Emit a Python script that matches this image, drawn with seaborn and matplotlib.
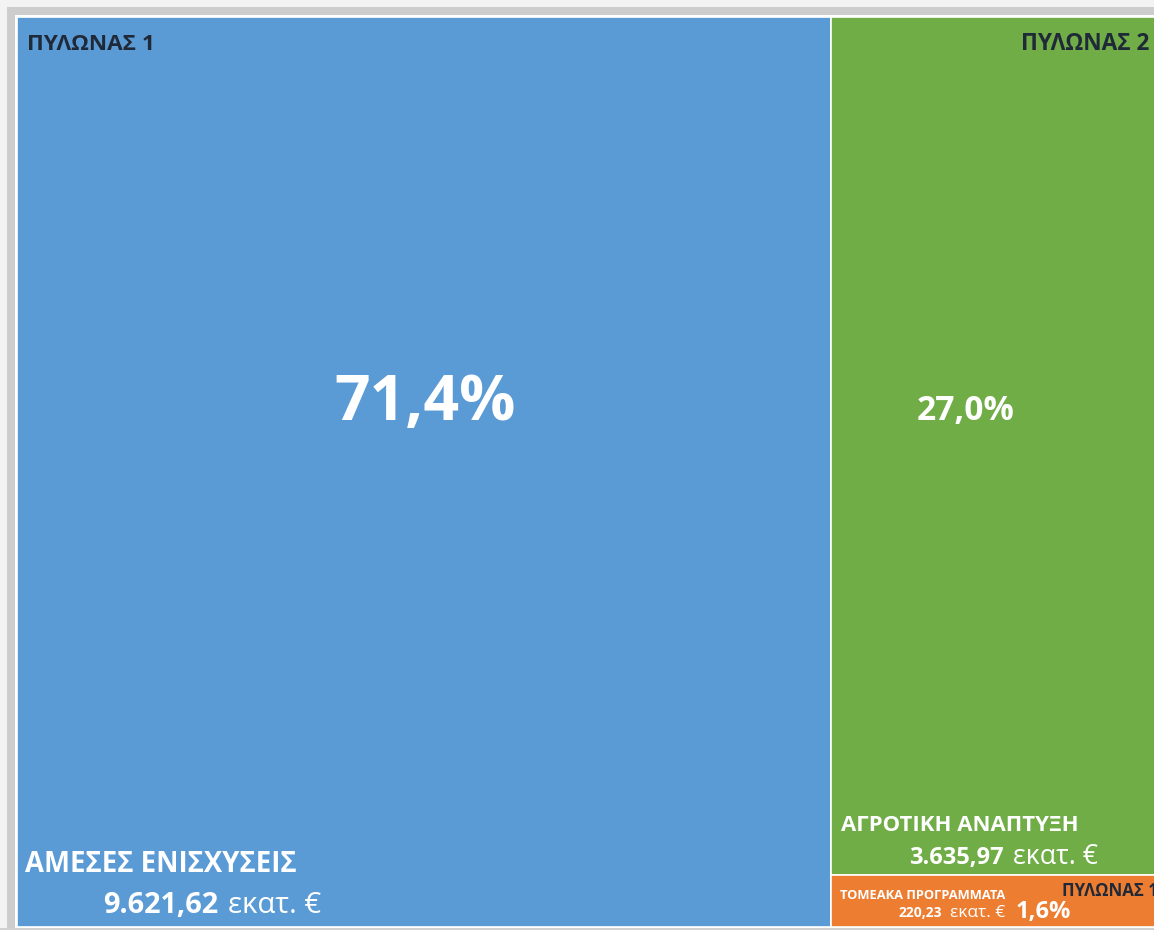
import matplotlib
matplotlib.use("Agg")
import matplotlib.pyplot as plt
from matplotlib.patches import Rectangle
import seaborn as sns

# ---- data ----
pillars = ["ΠΥΛΩΝΑΣ 1", "ΠΥΛΩΝΑΣ 2", "ΠΥΛΩΝΑΣ 1"]
categories = ["ΑΜΕΣΕΣ ΕΝΙΣΧΥΣΕΙΣ", "ΑΓΡΟΤΙΚΗ ΑΝΑΠΤΥΞΗ", "ΤΟΜΕΑΚΑ ΠΡΟΓΡΑΜΜΑΤΑ"]
values = [9621.62, 3635.97, 220.23]
value_labels = ["9.621,62", "3.635,97", "220,23"]
pct_labels = ["71,4%", "27,0%", "1,6%"]
unit = "εκατ. €"
colors = ["#5B9BD5", "#70AD47", "#ED7D31"]

sns.set_theme(style="white")
plt.rcParams["font.family"] = ["Open Sans", "DejaVu Sans"]

W, H = 1154, 930
fig = plt.figure(figsize=(W / 100, H / 100), dpi=100)
fig.patch.set_facecolor("#f3f3f3")

# slide frame
fig.patches.append(Rectangle((7 / W, 0), 1, (H - 7) / H, transform=fig.transFigure,
                             facecolor="#cdcdcd", edgecolor="none", zorder=-3))
fig.patches.append(Rectangle((15 / W, 0), 1, (H - 15) / H, transform=fig.transFigure,
                             facecolor="#ffffff", edgecolor="none", zorder=-2))
fig.patches.append(Rectangle((0, 0), 1, 2 / H, transform=fig.transFigure,
                             facecolor="#d0d0d0", edgecolor="none", zorder=-1))

# axes region of the treemap (pixels): left 17, right 1157, top 17, bottom 927
L, R, T, B = 17, 1157, 17, 927
ax = fig.add_axes([L / W, (H - B) / H, (R - L) / W, (B - T) / H])
ax.set_axis_off()
ax.set_zorder(1)

total = sum(values)
p2 = values[1] + values[2]
g_frac = values[1] / p2

ax.set_xlim(0, total)
ax.set_ylim(1, 0)

# treemap rectangles via bars
ax.bar([0], [1], width=[values[0]], bottom=[0], align="edge",
       color=colors[0], edgecolor="white", linewidth=1.2)
ax.bar([values[0]], [g_frac], width=[p2], bottom=[0], align="edge",
       color=colors[1], edgecolor="white", linewidth=1.2)
ax.bar([values[0]], [1 - g_frac], width=[p2], bottom=[g_frac], align="edge",
       color=colors[2], edgecolor="white", linewidth=1.2)

dark = "#1f2937"

def lab(x, y, dx, dy, s, size, color="white", weight="bold", ha="left", va="baseline"):
    ax.annotate(s, xy=(x, y), xytext=(dx, -dy), textcoords="offset pixels",
                ha=ha, va=va, fontsize=size, color=color, fontweight=weight,
                annotation_clip=False)

x0 = 0
x1 = values[0]
xr = total

# blue
lab(x0, 0, 10, 27, pillars[0], 16.2, color=dark, va="center")
lab(x1 / 2, 0, 1, 403, pct_labels[0], 45, ha="center")
lab(x0, 1, 8, -55, categories[0], 19.8)
lab(x0, 1, 201, -14, value_labels[0], 20.8, ha="right")
lab(x0, 1, 211, -14, unit, 21.2, weight="normal")

# green
lab(xr, 0, -8, 27, pillars[1], 16.3, color=dark, ha="right", va="center")
lab(x1, 0, 86, 403, pct_labels[1], 24.2)
lab(x1, g_frac, 10, -44, categories[1], 15.9)
lab(x1, g_frac, 173, -11, value_labels[1], 17, ha="right")
lab(x1, g_frac, 182, -11, unit, 19.2, weight="normal")

# orange
lab(x1, g_frac, 9, 24, categories[2], 9.3)
lab(x1, g_frac, 231, 21, pillars[2], 12.2, color=dark)
lab(x1, g_frac, 111, 42, value_labels[2], 10, ha="right")
lab(x1, g_frac, 119, 42, unit, 12.5, weight="normal")
lab(x1, g_frac, 185, 43, pct_labels[2], 17)

fig.savefig("out.png", dpi=100, facecolor=fig.get_facecolor())
